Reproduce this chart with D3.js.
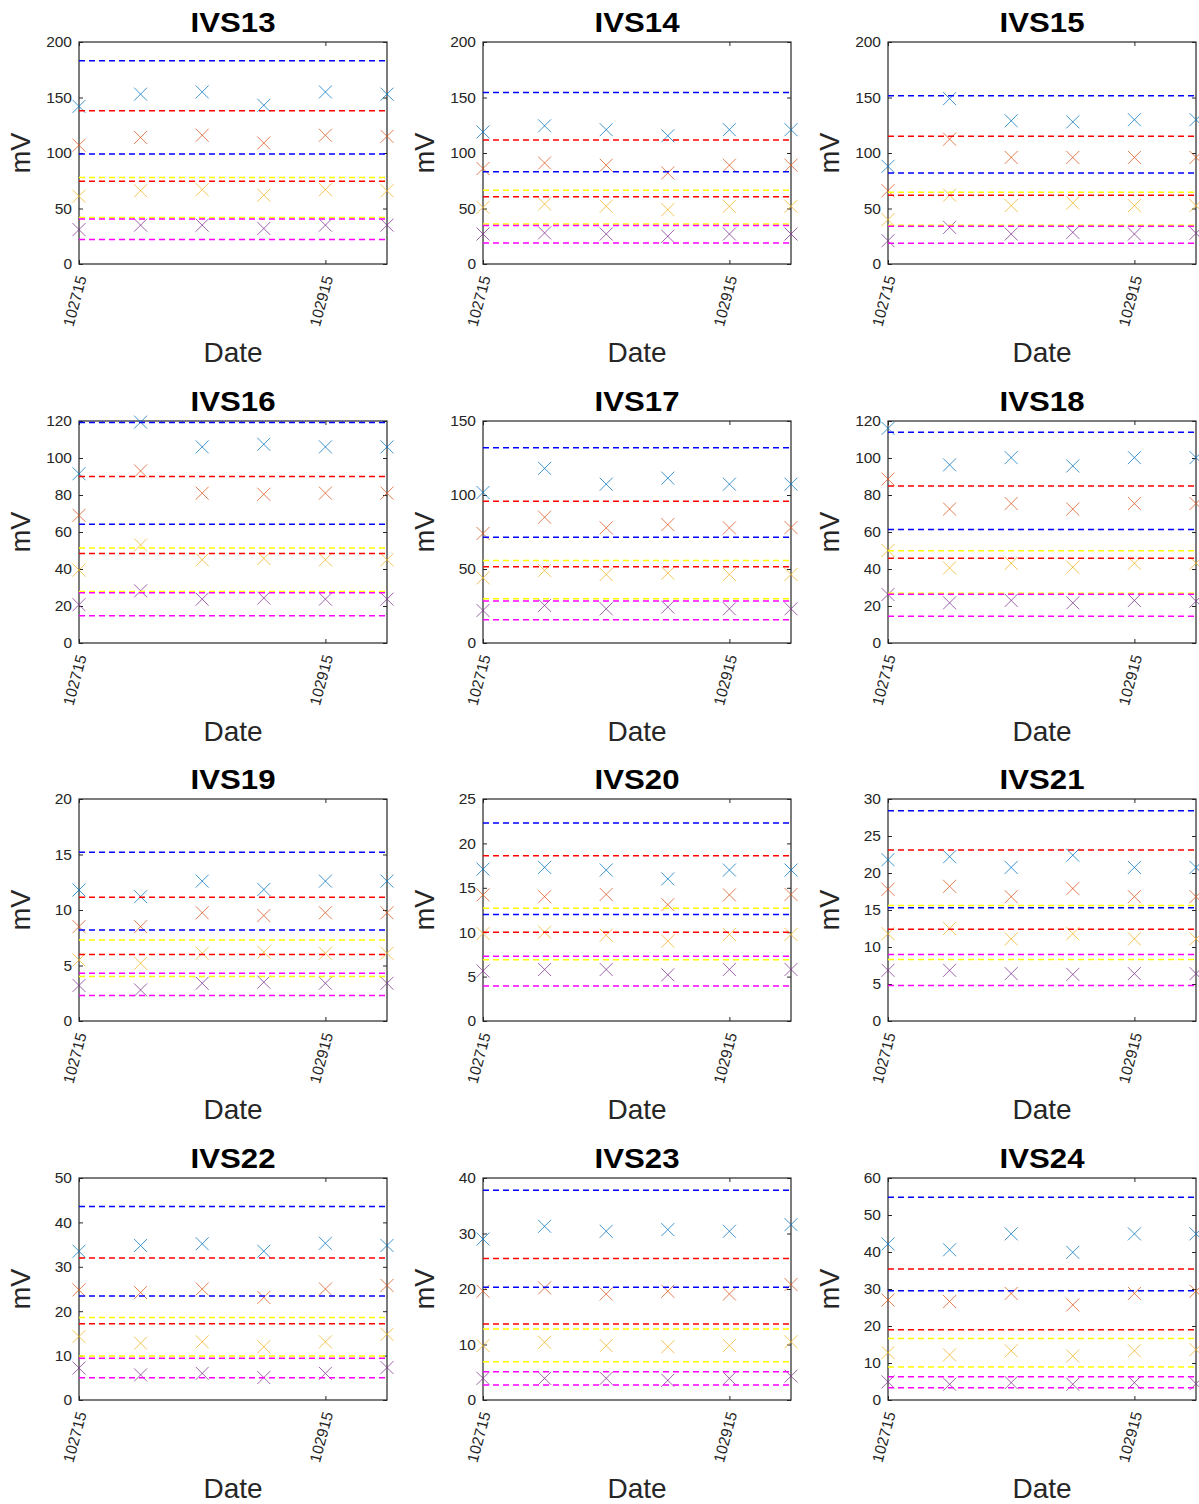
<!DOCTYPE html>
<html>
<head>
<meta charset="utf-8">
<script src="https://cdn.jsdelivr.net/npm/d3@7"></script>
<style>
  body { margin: 0; background: #fff; }
  text { font-family: "Liberation Sans", Arial, Helvetica, sans-serif; }
</style>
</head>
<body>
<div id="chart"></div>
<script>
// panel names and y ranges
const panelNames = ['IVS13', 'IVS14', 'IVS15', 'IVS16', 'IVS17', 'IVS18',
                    'IVS19', 'IVS20', 'IVS21', 'IVS22', 'IVS23', 'IVS24'];
const yMax  = [200, 200, 200, 120, 150, 120, 20, 25, 30, 50, 40, 60];
const yStep = [50, 50, 50, 20, 50, 20, 5, 5, 5, 10, 10, 10];

// x: six measurements, ticks only on the 1st and 5th
const dateIndex  = [0, 1, 2, 3, 4, 5];
const dateTicks  = [0, 4];
const dateLabels = ['102715', '102915'];

// measured values (x markers), one row per panel
const seriesBlue = [
  [142, 153, 155, 143, 155, 153],
  [119, 124.5, 121, 115.5, 121, 121],
  [88, 149, 129, 128, 130, 130],
  [91.5, 119.4, 106, 107.4, 106, 106],
  [101.7, 118, 107.3, 111.4, 107.3, 107.3],
  [116, 96.3, 100.2, 95.7, 100.2, 100.2],
  [11.8, 11.2, 12.6, 11.85, 12.6, 12.6],
  [17.1, 17.3, 17, 16, 17, 17],
  [21.8, 22.2, 20.75, 22.4, 20.75, 20.75],
  [33.5, 34.8, 35.2, 33.5, 35.3, 34.8],
  [29, 31.3, 30.4, 30.7, 30.4, 31.6],
  [42.2, 40.6, 44.9, 39.9, 44.9, 44.9]
];
const seriesOrange = [
  [107, 114, 116, 109, 116, 115],
  [86, 91, 89, 82, 89, 89],
  [66, 112.5, 96, 96, 96, 96],
  [69, 93, 81, 80.4, 81, 81],
  [74, 85, 77.8, 80, 77.8, 78],
  [88.6, 72.4, 75.4, 72.4, 75.4, 75.4],
  [8.5, 8.5, 9.75, 9.5, 9.75, 9.75],
  [14.2, 14, 14.25, 13.1, 14.2, 14.25],
  [17.8, 18.2, 16.8, 17.9, 16.8, 16.8],
  [24.8, 24.2, 25, 23.1, 25, 25.8],
  [19.6, 20.2, 19.1, 19.6, 19.1, 20.8],
  [27, 26.6, 28.8, 25.7, 28.8, 29.4]
];
const seriesYellow = [
  [61, 66, 67, 62, 67, 66],
  [51, 54, 52, 49, 52, 52],
  [40, 62, 52.6, 55, 52.6, 52.6],
  [39.4, 53, 45, 45.7, 45, 45],
  [44, 49, 46.3, 47.2, 46.3, 46.3],
  [50, 40.6, 43.1, 41, 43.1, 43.1],
  [5.5, 5.2, 6.1, 6.2, 6.1, 6.1],
  [9.85, 10, 9.66, 9, 9.74, 9.74],
  [11.8, 12.5, 11.1, 11.8, 11.1, 11.1],
  [14.3, 12.8, 13.1, 12, 13.1, 14.8],
  [9.8, 10.4, 9.8, 9.6, 9.8, 10.5],
  [12.8, 12.2, 13.3, 11.9, 13.3, 13.6]
];
const seriesPurple = [
  [31, 35, 35, 32, 35, 35],
  [27, 28, 27, 25, 27, 27],
  [21, 33, 27, 28.5, 27, 27.7],
  [20.7, 28.2, 23.7, 24.3, 23.7, 23.7],
  [22, 25.4, 23.1, 24.3, 23.1, 23.1],
  [26.2, 21.7, 23, 21.7, 23, 22.6],
  [3.2, 2.8, 3.4, 3.5, 3.4, 3.4],
  [5.64, 5.8, 5.8, 5.2, 5.8, 5.8],
  [6.85, 6.85, 6.4, 6.3, 6.4, 6.4],
  [7.2, 5.65, 6, 5.05, 6, 7.3],
  [3.9, 3.9, 3.9, 3.55, 3.9, 4.3],
  [4.9, 4.25, 4.7, 4.25, 4.7, 4.4]
];

// limit lines [upper, lower] per panel
const blueLim = [[183, 99], [154.6, 83], [151.6, 82], [119.2, 64.2], [132, 71.4], [113.9, 61.3],
                 [15.2, 8.2], [22.3, 12], [28.4, 15.3], [43.6, 23.4], [37.8, 20.3], [54.8, 29.5]];
const redLim = [[138, 74.5], [111.6, 60.5], [115, 62], [90, 48.4], [95.7, 51.6], [84.8, 45.8],
                [11.15, 6.0], [18.6, 10], [23.1, 12.4], [32, 17.2], [25.5, 13.7], [35.4, 19]];
const yellowLim = [[78, 42], [66.5, 36], [64.7, 35], [51.3, 27.9], [55.7, 29.9], [49.9, 26.9],
                   [7.3, 4.0], [12.7, 6.9], [15.6, 8.3], [18.6, 9.9], [12.8, 6.9], [16.6, 8.9]];
const magentaLim = [[40.6, 22], [34.6, 19], [34, 18.6], [27.2, 14.7], [28.3, 15.7], [26.4, 14.4],
                    [4.3, 2.3], [7.3, 3.95], [9.0, 4.8], [9.4, 5.0], [5.1, 2.7], [6.3, 3.3]];

// layout
const width = 1199, height = 1504;
const colLeft = [79, 483, 888];
const rowTop = [42, 421, 799, 1178];
const pw = 308, ph = 222;
const axisColor = '#262626';

const markerSets = [
  { data: seriesBlue, color: '#0072BD' },
  { data: seriesOrange, color: '#D95319' },
  { data: seriesYellow, color: '#EDB120' },
  { data: seriesPurple, color: '#7E2F8E' }
];
const limitSets = [
  { data: blueLim, color: '#0000FF' },
  { data: redLim, color: '#FF0000' },
  { data: yellowLim, color: '#FFFF00' },
  { data: magentaLim, color: '#FF00FF' }
];

const svg = d3.select('#chart')
  .append('svg')
  .attr('width', width)
  .attr('height', height);

svg.append('rect').attr('width', width).attr('height', height).attr('fill', '#fff');

panelNames.forEach((name, i) => {
  const col = i % 3, row = Math.floor(i / 3);
  const g = svg.append('g')
    .attr('transform', `translate(${colLeft[col]}, ${rowTop[row]})`);

  const x = d3.scaleLinear().domain([0, 5]).range([0, pw]);
  const y = d3.scaleLinear().domain([0, yMax[i]]).range([ph, 0]);
  const yTicks = d3.range(0, yMax[i] + yStep[i] / 2, yStep[i]);

  // axes with inward ticks
  const left = g.append('g')
    .call(d3.axisLeft(y).tickValues(yTicks).tickSizeInner(-4).tickSizeOuter(0).tickPadding(7));
  left.selectAll('text')
    .attr('font-size', 15.5)
    .attr('fill', axisColor)
    .style('font-family', '"Liberation Sans", Arial, sans-serif');

  g.append('g')
    .attr('transform', `translate(${pw}, 0)`)
    .call(d3.axisRight(y).tickValues(yTicks).tickSizeInner(-4).tickSizeOuter(0).tickFormat(''));

  g.append('g')
    .call(d3.axisTop(x).tickValues(dateTicks).tickSizeInner(-4).tickSizeOuter(0).tickFormat(''));

  const bottom = g.append('g')
    .attr('transform', `translate(0, ${ph})`)
    .call(d3.axisBottom(x).tickValues(dateTicks).tickSizeInner(-4).tickSizeOuter(0)
      .tickFormat((d, k) => dateLabels[k]));
  bottom.selectAll('text')
    .attr('font-size', 15.5)
    .attr('fill', axisColor)
    .attr('text-anchor', 'end')
    .attr('y', 0)
    .attr('dy', '0.35em')
    .attr('transform', 'translate(2, 12) rotate(-75)')
    .style('font-family', '"Liberation Sans", Arial, sans-serif');

  g.selectAll('.domain').remove();
  g.selectAll('.tick line').attr('stroke', axisColor);

  // box
  g.append('rect')
    .attr('width', pw)
    .attr('height', ph)
    .attr('fill', 'none')
    .attr('stroke', axisColor)
    .attr('stroke-width', 1.2);

  // x markers
  markerSets.forEach(s => {
    g.selectAll(null)
      .data(s.data[i])
      .enter().append('path')
      .attr('d', (d, k) => {
        const cx = x(dateIndex[k]), cy = y(d), r = 6.5;
        return `M${cx - r},${cy - r}L${cx + r},${cy + r}M${cx - r},${cy + r}L${cx + r},${cy - r}`;
      })
      .attr('stroke', s.color)
      .attr('stroke-width', 1)
      .attr('stroke-opacity', 0.75)
      .attr('fill', 'none');
  });

  // dashed limit lines
  limitSets.forEach(s => {
    g.selectAll(null)
      .data(s.data[i])
      .enter().append('line')
      .attr('x1', x(0))
      .attr('x2', x(5))
      .attr('y1', d => y(d))
      .attr('y2', d => y(d))
      .attr('stroke', s.color)
      .attr('stroke-width', 1.5)
      .attr('stroke-dasharray', '6,4');
  });

  // title and labels
  g.append('text')
    .attr('x', pw / 2)
    .attr('y', -10)
    .attr('text-anchor', 'middle')
    .attr('font-size', 27)
    .attr('font-weight', 'bold')
    .attr('textLength', 85)
    .attr('lengthAdjust', 'spacingAndGlyphs')
    .text(name);

  g.append('text')
    .attr('transform', `translate(-49, ${ph / 2}) rotate(-90)`)
    .attr('text-anchor', 'middle')
    .attr('font-size', 27)
    .attr('fill', axisColor)
    .text('mV');

  g.append('text')
    .attr('x', pw / 2)
    .attr('y', ph + 98)
    .attr('text-anchor', 'middle')
    .attr('font-size', 28)
    .attr('fill', axisColor)
    .text('Date');
});
</script>
</body>
</html>
